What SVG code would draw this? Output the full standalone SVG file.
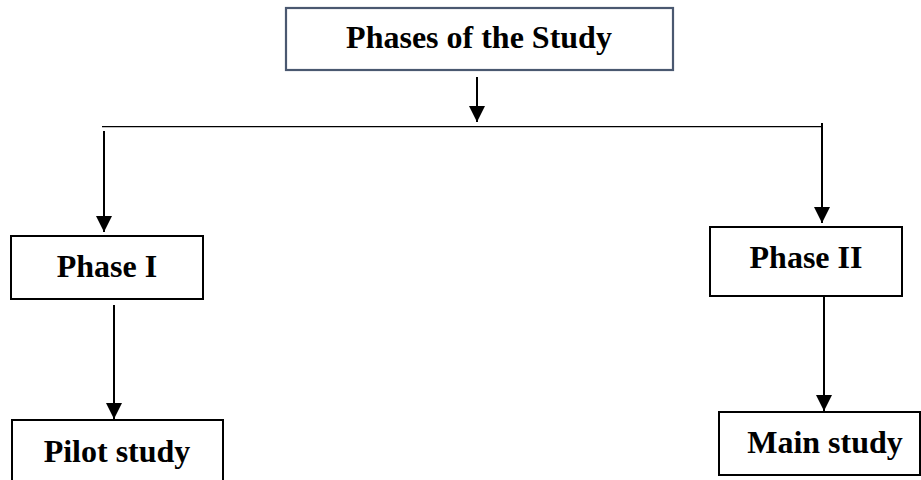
<svg xmlns="http://www.w3.org/2000/svg" width="921" height="480" viewBox="0 0 921 480">
  <defs>
    <marker id="arrow" viewBox="0 0 16 16" refX="16" refY="8" markerWidth="16" markerHeight="16" markerUnits="userSpaceOnUse" orient="auto">
      <path d="M0,0 L16,8 L0,16 Z" fill="#000"/>
    </marker>
    <style>
      .box { fill: #fff; stroke: #000; stroke-width: 2; }
      .title-box { fill: #fff; stroke: #4a5870; stroke-width: 2.2; }
      .label { font-family: "Liberation Serif", "Times New Roman", serif; font-weight: bold; font-size: 32px; fill: #000; text-anchor: middle; }
      .conn { stroke: #000; stroke-width: 2; fill: none; }
      .bus { stroke: #000; stroke-width: 1.2; fill: none; }
    </style>
  </defs>
  <rect width="921" height="480" fill="#fff"/>

  <g id="connectors">
    <line class="conn" x1="477" y1="77" x2="477" y2="122" marker-end="url(#arrow)"/>
    <line class="bus" x1="102" y1="126.7" x2="823" y2="126.7"/>
    <line class="conn" x1="104" y1="131" x2="104" y2="232" marker-end="url(#arrow)"/>
    <line class="conn" x1="822" y1="123" x2="822" y2="223" marker-end="url(#arrow)"/>
    <line class="conn" x1="114" y1="305" x2="114" y2="419" marker-end="url(#arrow)"/>
    <line class="conn" x1="824" y1="297" x2="824" y2="411" marker-end="url(#arrow)"/>
  </g>

  <g id="phases-of-the-study">
    <rect class="title-box" x="286" y="8" width="387" height="62"/>
    <text class="label" x="479" y="48" font-size="33">Phases of the Study</text>
  </g>

  <g id="phase-1">
    <rect class="box" x="11" y="236" width="192" height="63"/>
    <text class="label" x="107" y="277">Phase I</text>
  </g>

  <g id="phase-2">
    <rect class="box" x="710" y="227" width="192" height="69"/>
    <text class="label" x="806" y="268">Phase II</text>
  </g>

  <g id="pilot-study">
    <rect class="box" x="12" y="420" width="211" height="64"/>
    <text class="label" x="117" y="462">Pilot study</text>
  </g>

  <g id="main-study">
    <rect class="box" x="719" y="412" width="201" height="63"/>
    <text class="label" x="825" y="453">Main study</text>
  </g>
</svg>
